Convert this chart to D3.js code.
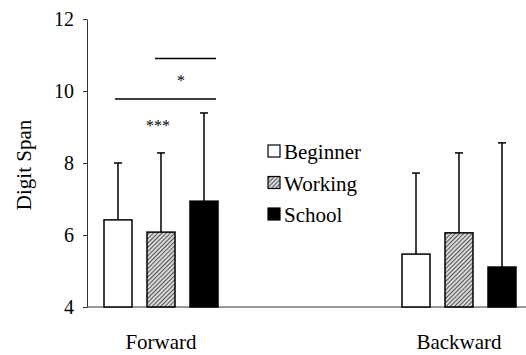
<!DOCTYPE html>
<html>
<head>
<meta charset="utf-8">
<script src="https://cdn.jsdelivr.net/npm/d3@7"></script>
<style>
  body { margin: 0; background: #fff; }
</style>
</head>
<body>
<svg id="chart" width="526" height="355"></svg>
<script>
// data
var groups = ["Forward", "Backward"];
var series = ["Beginner", "Working", "School"];
var means = [[6.42, 6.08, 6.94], [5.47, 6.06, 5.11]];
var upper = [[8.0, 8.28, 9.39], [7.72, 8.28, 8.56]];
var yTicks = [4, 6, 8, 10, 12];

var serif = "'Liberation Serif', 'Times New Roman', serif";
var svg = d3.select("#chart");

// hatch pattern for the Working group
var defs = svg.append("defs");
var pat = defs.append("pattern").attr("id", "hatch").attr("patternUnits", "userSpaceOnUse")
    .attr("width", 3).attr("height", 3).attr("patternTransform", "rotate(45)");
pat.append("rect").attr("width", 3).attr("height", 3).attr("fill", "#d8d8d8");
pat.append("line").attr("x1", 0).attr("y1", 0).attr("x2", 0).attr("y2", 3)
    .attr("stroke", "#333").attr("stroke-width", 1.6);

var fills = {Beginner: "#fff", Working: "url(#hatch)", School: "#000"};

var y = d3.scaleLinear().domain([4, 12]).range([307, 19]);
var x0 = d3.scalePoint().domain(groups).range([161, 459]);
var x1 = d3.scaleBand().domain(series).range([-57, 57]).paddingInner(15 / 43);

// y axis
var yAxis = svg.append("g").attr("transform", "translate(87,0)")
    .call(d3.axisLeft(y).tickValues(yTicks).tickSize(4).tickSizeOuter(0).tickPadding(9));
yAxis.select(".domain").attr("stroke", "#333");
yAxis.selectAll(".tick line").attr("stroke", "#333");
yAxis.selectAll("text").style("font-family", serif).style("font-size", "20px").attr("fill", "#000");

// x axis baseline
svg.append("line").attr("x1", 87).attr("x2", 526).attr("y1", y(4)).attr("y2", y(4))
    .attr("stroke", "#333").attr("stroke-width", 1);

svg.append("text").attr("transform", "translate(31," + 165 + ") rotate(-90)")
    .attr("text-anchor", "middle").style("font-family", serif).style("font-size", "21px")
    .text("Digit Span");

groups.forEach(function (g, gi) {
    svg.append("text").attr("x", x0(g)).attr("y", 349).attr("text-anchor", "middle")
        .style("font-family", serif).style("font-size", "21px").text(g);
    var gg = svg.append("g").attr("transform", "translate(" + x0(g) + ",0)");
    series.forEach(function (s, si) {
        var cx = x1(s) + x1.bandwidth() / 2;
        gg.append("line").attr("x1", cx).attr("x2", cx)
            .attr("y1", y(means[gi][si])).attr("y2", y(upper[gi][si]))
            .attr("stroke", "#000").attr("stroke-width", 1.5);
        gg.append("line").attr("x1", cx - 4).attr("x2", cx + 4)
            .attr("y1", y(upper[gi][si])).attr("y2", y(upper[gi][si]))
            .attr("stroke", "#000").attr("stroke-width", 1.5);
        gg.append("rect").attr("x", x1(s)).attr("y", y(means[gi][si]))
            .attr("width", x1.bandwidth()).attr("height", y(4) - y(means[gi][si]))
            .attr("fill", fills[s]).attr("stroke", "#000").attr("stroke-width", 1.5);
    });
});

// significance markers
var f = x0("Forward");
svg.append("line").attr("x1", f + x1("Working") + 8).attr("x2", f + x1("School") + x1.bandwidth() - 2)
    .attr("y1", y(10.9)).attr("y2", y(10.9)).attr("stroke", "#000").attr("stroke-width", 1.5);
svg.append("line").attr("x1", f + x1("Beginner") + 11).attr("x2", f + x1("School") + x1.bandwidth() - 2)
    .attr("y1", y(9.78)).attr("y2", y(9.78)).attr("stroke", "#000").attr("stroke-width", 1.5);
svg.append("text").attr("x", 181).attr("y", y(10.15)).attr("text-anchor", "middle")
    .style("font-family", serif).style("font-size", "16px").text("*");
svg.append("text").attr("x", 158).attr("y", y(8.9)).attr("text-anchor", "middle")
    .style("font-family", serif).style("font-size", "16px").text("***");

// legend
var leg = svg.append("g").attr("transform", "translate(268,0)");
series.forEach(function (s, i) {
    var cy = 152 + i * 31.5;
    leg.append("rect").attr("x", 0).attr("y", cy - 7).attr("width", 12).attr("height", 12)
        .attr("fill", fills[s]).attr("stroke", "#000").attr("stroke-width", 1.2);
    leg.append("text").attr("x", 16).attr("y", cy + 7).style("font-family", serif)
        .style("font-size", "21px").text(s);
});
</script>
</body>
</html>
